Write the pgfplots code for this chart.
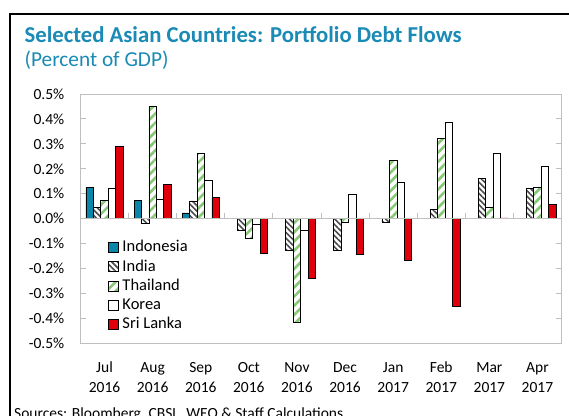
\documentclass[border=0pt]{standalone}
\usepackage{fontspec}
\setmainfont{Carlito}
\usepackage{pgfplots}
\pgfplotsset{compat=1.18}
\usetikzlibrary{patterns.meta}

\definecolor{ttl}{HTML}{1A8AB6}
\definecolor{indo}{HTML}{0A86AB}
\definecolor{srl}{HTML}{E0000B}
\definecolor{thgreen}{HTML}{86C876}
\definecolor{axgray}{HTML}{BFBFBF}

% months: 0 = Jul 2016 ... 9 = Apr 2017
\pgfplotstableread{
x y
0 0.124
1 0.073
2 0.023
}\indonesia
\pgfplotstableread{
x y
0 0.044
1 -0.020
2 0.071
3 -0.047
4 -0.129
5 -0.128
6 -0.016
7 0.036
8 0.161
9 0.120
}\india
\pgfplotstableread{
x y
0 0.073
1 0.452
2 0.261
3 -0.078
4 -0.418
5 -0.016
6 0.233
7 0.323
8 0.047
9 0.126
}\thailand
\pgfplotstableread{
x y
0 0.120
1 0.078
2 0.152
3 -0.023
4 -0.047
5 0.098
6 0.144
7 0.386
8 0.261
9 0.208
}\korea
\pgfplotstableread{
x y
0 0.290
1 0.138
2 0.085
3 -0.138
4 -0.238
5 -0.145
6 -0.168
7 -0.352
8 0.003
9 0.056
}\srilanka

\newcommand{\mlab}[2]{\strut #1\\\strut #2}

\begin{document}
\begin{tikzpicture}
\useasboundingbox (0bp,0bp) rectangle (569bp,416bp);
\fill[white] (0bp,0bp) rectangle (569bp,416bp);
% outer frame (cut off on the right and bottom)
\draw[black, line width=2bp] (10bp,-5bp) -- (10bp,402bp) -- (580bp,402bp);

\node[anchor=base west, inner sep=0pt, text=ttl, font=\fontsize{22.7bp}{26bp}\selectfont\bfseries]
  at (24.5bp,373.5bp) {Selected Asian Countries: Portfolio Debt Flows};
\node[anchor=base west, inner sep=0pt, text=ttl, font=\fontsize{21.3bp}{25bp}\selectfont]
  at (24.5bp,349bp) {(Percent of GDP)};
\node[anchor=base west, inner sep=0pt, font=\fontsize{15.5bp}{18bp}\selectfont]
  at (14bp,-2bp) {Sources: Bloomberg, CBSL, WEO \& Staff Calculations};

\coordinate (corner) at (80.5bp,72.7bp);
\begin{axis}[
    at={(corner)}, anchor=south west,
    scale only axis, width=481bp, height=249.3bp,
    ybar=0pt, bar width=7.46bp,
    xmin=-0.5, xmax=9.5,
    ymin=-0.5, ymax=0.5,
    axis line style={axgray, line width=0.9bp},
    xtick={0,...,9},
    xticklabels={{\mlab{Jul}{2016}},{\mlab{Aug}{2016}},{\mlab{Sep}{2016}},{\mlab{Oct}{2016}},{\mlab{Nov}{2016}},
                 {\mlab{Dec}{2016}},{\mlab{Jan}{2017}},{\mlab{Feb}{2017}},{\mlab{Mar}{2017}},{\mlab{Apr}{2017}}},
    x tick style={draw=none},
    xticklabel style={align=center, font=\fontsize{15.5bp}{20bp}\selectfont, yshift=-12bp},
    ytick={-0.5,-0.4,...,0.5},
    yticklabels={-0.5\%,-0.4\%,-0.3\%,-0.2\%,-0.1\%,0.0\%,0.1\%,0.2\%,0.3\%,0.4\%,0.5\%},
    yticklabel style={font=\fontsize{15.5bp}{18bp}\selectfont, inner sep=0pt, xshift=-16bp},
    tick align=inside, major tick length=5.5bp,
    y tick style={axgray, line width=0.9bp},
    legend style={at={(0.05,0.43)}, anchor=north west, draw=none, fill=none,
        font=\fontsize{16.5bp}{19bp}\selectfont, row sep=0.8bp,
        nodes={inner sep=1.5bp, text height=12bp, text depth=3.5bp},
        /tikz/every odd column/.append style={column sep=2.5bp}},
    legend cell align=left,
    legend image code/.code={\draw[#1, line width=0.75bp] (0bp,-5bp) rectangle (10bp,5bp);},
    every axis plot/.append style={draw=black, line width=0.75bp},
]
\addplot[fill=indo] table[x=x,y=y] {\indonesia};
\addplot[pattern={Lines[angle=-45,distance=4bp,line width=1.6bp]}, pattern color=black!70] table[x=x,y=y] {\india};
\addplot[pattern={Lines[angle=45,distance=6.5bp,line width=2.6bp]}, pattern color=thgreen] table[x=x,y=y] {\thailand};
\addplot[fill=white] table[x=x,y=y] {\korea};
\addplot[fill=srl] table[x=x,y=y] {\srilanka};
\legend{Indonesia, India, Thailand, Korea, Sri Lanka}

\draw[axgray, line width=0.9bp] (axis cs:-0.5,0) -- (axis cs:9.5,0);
\pgfplotsinvokeforeach{0.5,1.5,...,8.5}{
  \draw[axgray, line width=0.9bp] (axis cs:#1,0) -- ([yshift=5.5bp]axis cs:#1,0);
}
\end{axis}
\end{tikzpicture}
\end{document}
